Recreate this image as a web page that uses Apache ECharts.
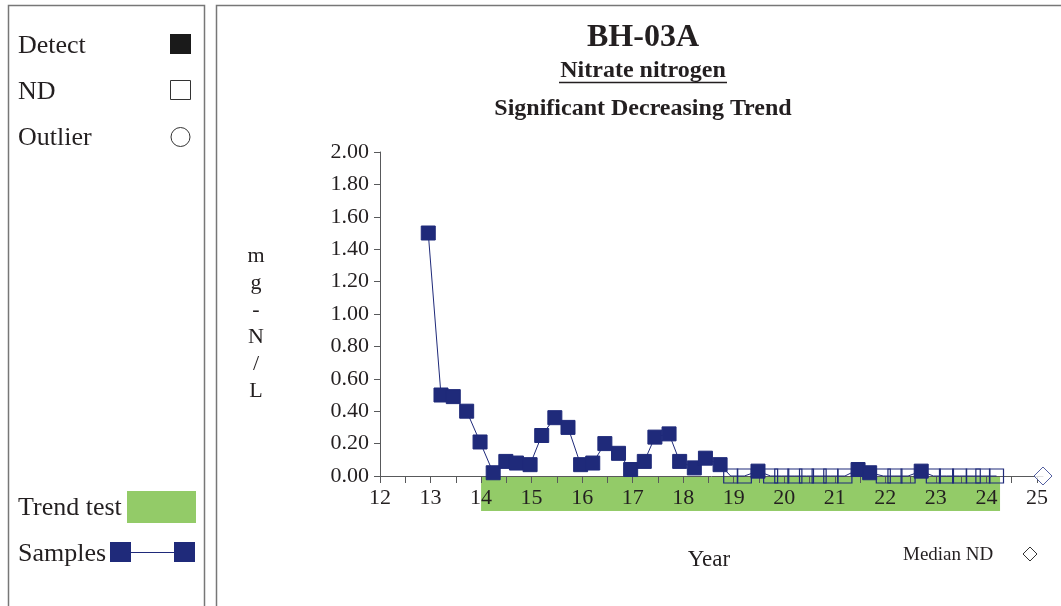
<!DOCTYPE html>
<html>
<head>
<meta charset="utf-8">
<title>BH-03A Nitrate nitrogen</title>
<script src="https://cdn.jsdelivr.net/npm/echarts@6/dist/echarts.min.js"></script>
<style>
  html, body { margin: 0; padding: 0; background: #ffffff; }
  #chart { width: 1061px; height: 606px; }
</style>
</head>
<body>
<div id="chart"></div>
<script>
// Sample dates (decimal years, 20xx) and nitrate-N results (mg-N/L)
const sampleYears = [
  12.955, 13.207, 13.45, 13.715, 13.98, 14.24, 14.49, 14.70, 14.97, 15.20,
  15.46, 15.72, 15.97, 16.21, 16.45, 16.72, 16.96, 17.23, 17.44, 17.72,
  17.93, 18.22, 18.44, 18.73, 18.94, 19.21, 19.48, 19.73, 19.95, 20.21,
  20.44, 20.69, 20.92, 21.20, 21.46, 21.69, 21.96, 22.19, 22.45, 22.71,
  22.95, 23.21, 23.47, 23.74, 23.93, 24.20
];
const sampleValues = [
  1.50, 0.50, 0.49, 0.40, 0.21, 0.02, 0.09, 0.08, 0.07, 0.25,
  0.36, 0.30, 0.07, 0.08, 0.20, 0.14, 0.04, 0.09, 0.24, 0.26,
  0.09, 0.05, 0.11, 0.07, 0.00, 0.00, 0.03, 0.00, 0.00, 0.00,
  0.00, 0.00, 0.00, 0.00, 0.04, 0.02, 0.00, 0.00, 0.00, 0.03,
  0.00, 0.00, 0.00, 0.00, 0.00, 0.00
];
// 1 = non-detect (ND), 0 = detect
const nonDetect = [
  0, 0, 0, 0, 0, 0, 0, 0, 0, 0,
  0, 0, 0, 0, 0, 0, 0, 0, 0, 0,
  0, 0, 0, 0, 1, 1, 0, 1, 1, 1,
  1, 1, 1, 1, 0, 0, 1, 1, 1, 0,
  1, 1, 1, 1, 1, 1
];
// Period covered by the trend test (start year, end year)
const trendPeriod = [14.0, 24.27];
// Median of non-detects, placed at the right end of the time axis
const medianND = [[25.12, 0.0]];
const yTicks = ['0.00', '0.20', '0.40', '0.60', '0.80', '1.00', '1.20', '1.40', '1.60', '1.80', '2.00'];

const NAVY = '#1f2a7a';
const GREEN = '#93cb68';
const TEXT = '#231f20';
const AXIS = '#58595b';
const SERIF = '"Liberation Serif", "Times New Roman", serif';

const sampleData = sampleYears.map((yr, i) => {
  const pt = { value: [yr, sampleValues[i]] };
  if (nonDetect[i]) {
    pt.itemStyle = { color: 'rgba(255,255,255,0)', borderColor: NAVY, borderWidth: 1.2 };
  }
  return pt;
});

const chart = echarts.init(document.getElementById('chart'), null, { renderer: 'canvas' });

const option = {
  animation: false,
  backgroundColor: '#ffffff',
  grid: { left: 380, right: 18, top: 152, bottom: 130, containLabel: false },
  xAxis: {
    type: 'value',
    min: 12,
    max: 25.12,
    interval: 0.5,
    axisLine: { show: true, onZero: false, lineStyle: { color: AXIS, width: 1 } },
    axisTick: { show: true, inside: false, length: 7, lineStyle: { color: AXIS } },
    axisLabel: {
      show: true,
      margin: 11,
      color: TEXT,
      fontFamily: SERIF,
      fontSize: 22,
      showMaxLabel: false,
      formatter: v => (Math.abs(v - Math.round(v)) < 1e-6 && v <= 25) ? String(Math.round(v)) : ''
    },
    splitLine: { show: false }
  },
  yAxis: {
    type: 'value',
    min: 0,
    max: 2,
    interval: 0.2,
    axisLine: { show: true, lineStyle: { color: AXIS, width: 1 } },
    axisTick: { show: true, inside: false, length: 6, lineStyle: { color: AXIS } },
    axisLabel: {
      margin: 11,
      color: TEXT,
      fontFamily: SERIF,
      fontSize: 22,
      formatter: v => yTicks[Math.round(v / 0.2)]
    },
    splitLine: { show: false }
  },
  series: [
    {
      // trend-test period band under the time axis
      type: 'custom',
      name: 'Trend test',
      z: -1,
      clip: false,
      silent: true,
      data: [[trendPeriod[0], trendPeriod[1], 0]],
      encode: { x: [0, 1], y: 2 },
      renderItem: (params, api) => {
        const a = api.coord([api.value(0), 0]);
        const b = api.coord([api.value(1), 0]);
        return {
          type: 'rect',
          shape: { x: a[0], y: a[1] + 1, width: b[0] - a[0], height: 34 },
          style: { fill: GREEN }
        };
      }
    },
    {
      type: 'line',
      name: 'Samples',
      data: sampleData,
      symbol: 'rect',
      symbolSize: 14,
      showAllSymbol: true,
      clip: false,
      lineStyle: { color: NAVY, width: 1 },
      itemStyle: { color: NAVY, borderColor: NAVY },
      emphasis: { disabled: true },
      z: 3
    },
    {
      type: 'scatter',
      name: 'Median ND',
      data: medianND,
      symbol: 'diamond',
      symbolSize: 18,
      clip: false,
      itemStyle: { color: '#ffffff', borderColor: '#2a3a8a', borderWidth: 1 },
      emphasis: { disabled: true },
      z: 4
    }
  ],
  graphic: [
    // legend panel
    { type: 'rect', shape: { x: 8.5, y: 5.5, width: 196, height: 640 },
      style: { fill: 'none', stroke: '#777777', lineWidth: 1.5 } },
    // chart panel
    { type: 'rect', shape: { x: 216.5, y: 5.5, width: 900, height: 700 },
      style: { fill: 'none', stroke: '#777777', lineWidth: 1.5 } },

    { type: 'text', x: 18, y: 46, style: { text: 'Detect', font: '26px ' + SERIF, fill: TEXT, textVerticalAlign: 'middle' } },
    { type: 'rect', shape: { x: 170, y: 34, width: 21, height: 20 }, style: { fill: '#1a1a1a' } },
    { type: 'text', x: 18, y: 92, style: { text: 'ND', font: '26px ' + SERIF, fill: TEXT, textVerticalAlign: 'middle' } },
    { type: 'rect', shape: { x: 170.5, y: 80.5, width: 20, height: 19 }, style: { fill: '#ffffff', stroke: '#333333', lineWidth: 1 } },
    { type: 'text', x: 18, y: 138, style: { text: 'Outlier', font: '26px ' + SERIF, fill: TEXT, textVerticalAlign: 'middle' } },
    { type: 'circle', shape: { cx: 180.5, cy: 137, r: 9.5 }, style: { fill: '#ffffff', stroke: '#333333', lineWidth: 1 } },

    { type: 'text', x: 18, y: 508, style: { text: 'Trend test', font: '26px ' + SERIF, fill: TEXT, textVerticalAlign: 'middle' } },
    { type: 'rect', shape: { x: 127, y: 491, width: 69, height: 32 }, style: { fill: GREEN } },
    { type: 'text', x: 18, y: 554, style: { text: 'Samples', font: '26px ' + SERIF, fill: TEXT, textVerticalAlign: 'middle' } },
    { type: 'line', shape: { x1: 120, y1: 552.5, x2: 185, y2: 552.5 }, style: { stroke: NAVY, lineWidth: 1 } },
    { type: 'rect', shape: { x: 110, y: 542, width: 21, height: 20 }, style: { fill: NAVY } },
    { type: 'rect', shape: { x: 174, y: 542, width: 21, height: 20 }, style: { fill: NAVY } },

    // titles
    { type: 'text', x: 643, y: 38, style: { text: 'BH-03A', font: 'bold 32px ' + SERIF, fill: TEXT, textAlign: 'center', textVerticalAlign: 'middle' } },
    { type: 'text', x: 643, y: 71, style: { text: 'Nitrate nitrogen', font: 'bold 24px ' + SERIF, fill: TEXT, textAlign: 'center', textVerticalAlign: 'middle' } },
    { type: 'line', shape: { x1: 559, y1: 82.5, x2: 727, y2: 82.5 }, style: { stroke: TEXT, lineWidth: 1.5 } },
    { type: 'text', x: 643, y: 109, style: { text: 'Significant Decreasing Trend', font: 'bold 24px ' + SERIF, fill: TEXT, textAlign: 'center', textVerticalAlign: 'middle' } },

    // y-axis unit, one character per line
    { type: 'text', x: 256, y: 324, style: { text: 'm\ng\n-\nN\n/\nL', font: '22px ' + SERIF, lineHeight: 27, fill: TEXT, textAlign: 'center', textVerticalAlign: 'middle' } },

    // x-axis name and median ND key
    { type: 'text', x: 709, y: 560, style: { text: 'Year', font: '23px ' + SERIF, fill: TEXT, textAlign: 'center', textVerticalAlign: 'middle' } },
    { type: 'text', x: 903, y: 555, style: { text: 'Median ND', font: '19px ' + SERIF, fill: TEXT, textVerticalAlign: 'middle' } },
    { type: 'polygon', shape: { points: [[1030, 547], [1037, 554], [1030, 561], [1023, 554]] },
      style: { fill: '#ffffff', stroke: '#333333', lineWidth: 1 } }
  ]
};

chart.setOption(option);
</script>
</body>
</html>
